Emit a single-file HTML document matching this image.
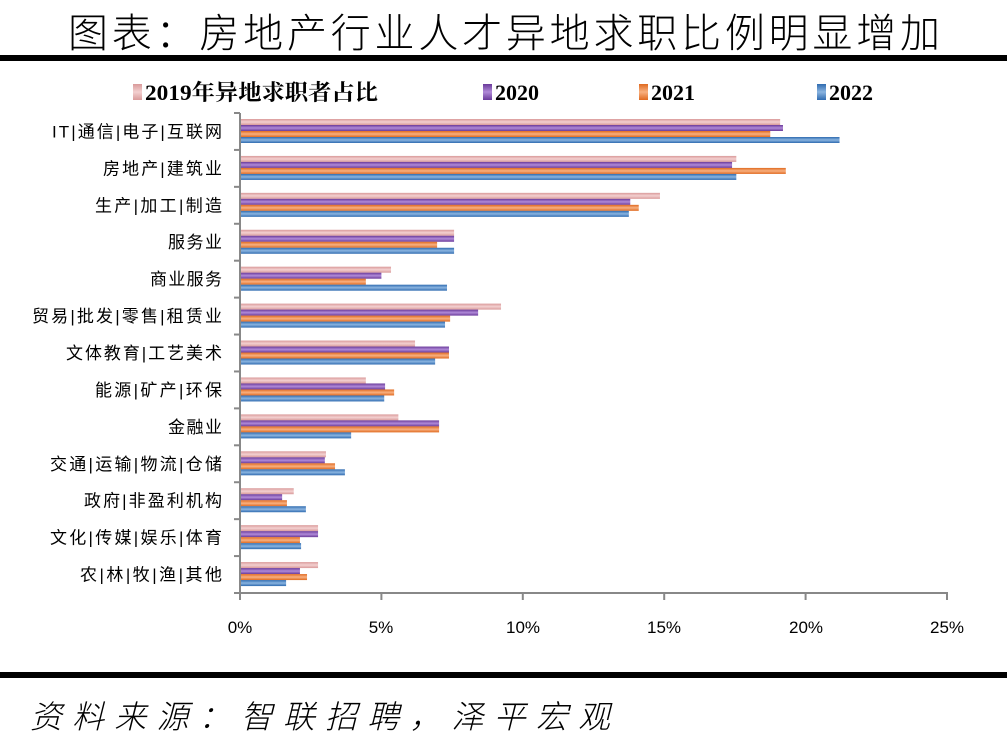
<!DOCTYPE html>
<html><head><meta charset="utf-8"><style>
body{margin:0;background:#fff;width:1007px;height:747px;overflow:hidden}
svg{display:block}
</style></head><body>
<svg width="1007" height="747" xmlns="http://www.w3.org/2000/svg" font-family="'Liberation Serif','Noto Serif CJK SC',serif">
<defs>
<linearGradient id="g0" x1="0" y1="0" x2="0" y2="1"><stop offset="0" stop-color="#d99a9a"/><stop offset="0.5" stop-color="#f3d0d0"/><stop offset="1" stop-color="#d99a9a"/></linearGradient>
<linearGradient id="g1" x1="0" y1="0" x2="0" y2="1"><stop offset="0" stop-color="#6a3a9a"/><stop offset="0.5" stop-color="#b08ad8"/><stop offset="1" stop-color="#6a3a9a"/></linearGradient>
<linearGradient id="g2" x1="0" y1="0" x2="0" y2="1"><stop offset="0" stop-color="#e06a20"/><stop offset="0.5" stop-color="#f8b080"/><stop offset="1" stop-color="#e06a20"/></linearGradient>
<linearGradient id="g3" x1="0" y1="0" x2="0" y2="1"><stop offset="0" stop-color="#2f6bb0"/><stop offset="0.5" stop-color="#8ab4e0"/><stop offset="1" stop-color="#2f6bb0"/></linearGradient>
</defs>
<text x="68" y="47" font-family="'Noto Sans CJK SC',sans-serif" font-size="40" font-weight="300" textLength="872" lengthAdjust="spacing">图表：房地产行业人才异地求职比例明显增加</text>
<rect x="0" y="55" width="1007" height="6" fill="#000"/>
<g font-size="22" font-weight="bold" font-family="'Liberation Serif','Noto Serif CJK SC',serif">
<rect x="133" y="84" width="9" height="16" fill="url(#g0)"/><text x="145" y="100" textLength="233" lengthAdjust="spacingAndGlyphs">2019年异地求职者占比</text>
<rect x="483" y="84" width="9" height="16" fill="url(#g1)"/><text x="495" y="100">2020</text>
<rect x="639" y="84" width="9" height="16" fill="url(#g2)"/><text x="651" y="100">2021</text>
<rect x="817" y="84" width="9" height="16" fill="url(#g3)"/><text x="829" y="100">2022</text>
</g>
<g id="plot"></g>
<line x1="240" y1="113" x2="240" y2="593" stroke="#888" stroke-width="2"/>
<line x1="240" y1="593" x2="948" y2="593" stroke="#888" stroke-width="2"/>
<g id="ticks" stroke="#888" stroke-width="2"></g>
<g font-family="'Liberation Sans','Noto Sans CJK SC',sans-serif" font-size="17" fill="#000" text-anchor="middle">
<text x="240" y="633">0%</text><text x="381" y="633">5%</text><text x="523" y="633">10%</text><text x="664" y="633">15%</text><text x="806" y="633">20%</text><text x="947" y="633">25%</text>
</g>
<rect x="0" y="672" width="1007" height="6" fill="#000"/>
<text x="30" y="728" font-family="'Noto Sans CJK SC',sans-serif" font-size="32" font-style="italic" font-weight="300" textLength="580" lengthAdjust="spacing">资料来源：智联招聘，泽平宏观</text>
<g id="labels" font-family="'Liberation Sans','Noto Sans CJK SC',sans-serif" font-size="17"></g>
</svg>
<script>
var cats=["IT|通信|电子|互联网","房地产|建筑业","生产|加工|制造","服务业","商业服务","贸易|批发|零售|租赁业","文体教育|工艺美术","能源|矿产|环保","金融业","交通|运输|物流|仓储","政府|非盈利机构","文化|传媒|娱乐|体育","农|林|牧|渔|其他"];
var lx=[52,103,95,168,150,32,66,95,168,50,84,50,80];
var v=[[19.1,19.2,18.75,21.2],[17.55,17.4,19.3,17.55],[14.85,13.8,14.1,13.75],[7.57,7.57,6.97,7.57],[5.34,5.0,4.45,7.32],[9.23,8.42,7.43,7.25],[6.19,7.39,7.39,6.9],[4.45,5.13,5.45,5.1],[5.6,7.04,7.04,3.93],[3.04,3.0,3.36,3.71],[1.9,1.49,1.66,2.33],[2.76,2.76,2.12,2.16],[2.76,2.12,2.37,1.63]];
var ns="http://www.w3.org/2000/svg",p=document.getElementById("plot"),t=document.getElementById("ticks"),l=document.getElementById("labels");
var step=480/13,sc=707/25;
for(var i=0;i<13;i++){var y0=113+i*step;
for(var k=0;k<4;k++){var r=document.createElementNS(ns,"rect");r.setAttribute("x",240);r.setAttribute("y",y0+6+k*6);r.setAttribute("width",v[i][k]*sc);r.setAttribute("height",6);r.setAttribute("fill","url(#g"+k+")");p.appendChild(r);}
var tx=document.createElementNS(ns,"text");tx.setAttribute("x",lx[i]);tx.setAttribute("y",y0+step/2+6);tx.setAttribute("textLength",222-lx[i]);tx.setAttribute("lengthAdjust","spacing");tx.textContent=cats[i];l.appendChild(tx);}
for(var i=0;i<=13;i++){var ln=document.createElementNS(ns,"line");var y=113+i*step;ln.setAttribute("x1",234);ln.setAttribute("x2",240);ln.setAttribute("y1",y);ln.setAttribute("y2",y);t.appendChild(ln);}
for(var j=0;j<=5;j++){var ln=document.createElementNS(ns,"line");var x=240+j*707/5;ln.setAttribute("x1",x);ln.setAttribute("x2",x);ln.setAttribute("y1",593);ln.setAttribute("y2",600);t.appendChild(ln);}
</script>
</body></html>
